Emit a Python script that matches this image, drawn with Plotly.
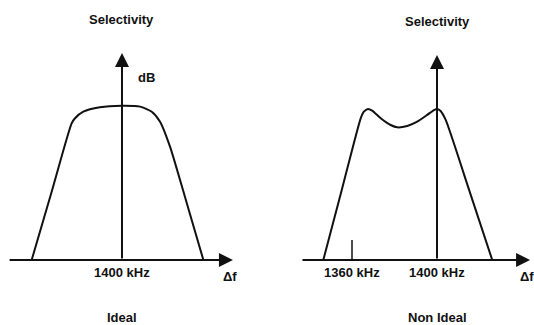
import plotly.graph_objects as go

# ---- data (frequency in kHz, level in relative dB units) ----
ideal_freq = [1357.5, 1366.9, 1376.3, 1377.9, 1381.8, 1389.6, 1400.0, 1408.5, 1414.0, 1417.9, 1422.6, 1430.5, 1438.3]
ideal_level = [0.0, 4.46, 8.93, 9.26, 9.69, 9.98, 10.08, 10.02, 9.69, 9.04, 7.41, 3.71, 0.0]

nonideal_freq = [1346.5, 1355.3, 1364.1, 1365.6, 1367.5, 1369.5, 1373.5, 1378.2, 1381.3, 1386.0,
                 1390.7, 1395.4, 1398.6, 1400.1, 1401.7, 1404.1, 1415.1, 1426.0]
nonideal_level = [0.0, 4.64, 9.26, 9.69, 9.87, 9.76, 9.26, 8.82, 8.67, 8.76,
                  9.04, 9.48, 9.80, 9.87, 9.74, 9.15, 4.58, 0.0]

center_freq = 1400
marker_freq = 1360
ideal_tick_labels = ["1400 kHz"]
nonideal_tick_labels = ["1360 kHz", "1400 kHz"]
titles = ["Selectivity", "Selectivity"]
captions = ["Ideal", "Non Ideal"]

# axis extents (data units)
left_xrange = [1342.59, 1468.24]
right_xrange = [1320.0, 1445.65]
yrange = [-4.25, 16.99]

FONT = dict(family="Liberation Sans, Arial, sans-serif", size=13, color="#111")
LINE = "#111"

fig = go.Figure()
fig.add_trace(go.Scatter(x=ideal_freq, y=ideal_level, mode="lines",
                         line=dict(color=LINE, width=2, shape="spline", smoothing=0.6),
                         xaxis="x", yaxis="y", hoverinfo="skip"))
fig.add_trace(go.Scatter(x=nonideal_freq, y=nonideal_level, mode="lines",
                         line=dict(color=LINE, width=2, shape="spline", smoothing=0.6),
                         xaxis="x2", yaxis="y2", hoverinfo="skip"))
# 1360 kHz marker tick
fig.add_trace(go.Scatter(x=[marker_freq, marker_freq], y=[0, 1.31], mode="lines",
                         line=dict(color=LINE, width=1.5), xaxis="x2", yaxis="y2", hoverinfo="skip"))

ann = []
def arrow(xref, yref, x0, y0, x1, y1):
    ann.append(dict(x=x1, y=y1, ax=x0, ay=y0, xref=xref, yref=yref, axref=xref, ayref=yref,
                    text="", showarrow=True, arrowhead=2, arrowsize=1.4, arrowwidth=2,
                    arrowcolor=LINE, standoff=0))

def label(xref, yref, x, y, t, bold=True):
    ann.append(dict(x=x, y=y, xref=xref, yref=yref, text=f"<b>{t}</b>" if bold else t,
                    showarrow=False, font=FONT, xanchor="center", yanchor="middle"))

# left panel axes
arrow("x", "y", 1346.4, 0, 1452.2, 0)
arrow("x", "y", center_freq, 0, center_freq, 13.53)
# right panel axes
arrow("x2", "y2", 1336.0, 0, 1443.8, 0)
arrow("x2", "y2", center_freq, 0, center_freq, 13.4)

label("x", "y", center_freq, 15.69, titles[0])
label("x", "y", 1411.3, 11.9, "dB")
label("x", "y", center_freq, -0.85, ideal_tick_labels[0])
label("x", "y", 1450.8, -1.05, "Δf")
label("x", "y", center_freq, -3.73, captions[0])

label("x2", "y2", center_freq, 15.56, titles[1])
label("x2", "y2", marker_freq, -0.85, nonideal_tick_labels[0])
label("x2", "y2", center_freq, -0.85, nonideal_tick_labels[1])
label("x2", "y2", 1442.4, -1.05, "Δf")
label("x2", "y2", center_freq, -3.73, captions[1])

hidden = dict(visible=False, showgrid=False, zeroline=False, fixedrange=True)
fig.update_layout(
    width=534, height=325,
    margin=dict(l=0, r=0, t=0, b=0),
    paper_bgcolor="white", plot_bgcolor="white",
    showlegend=False,
    xaxis=dict(domain=[0, 0.5], range=left_xrange, anchor="y", **hidden),
    yaxis=dict(domain=[0, 1], range=yrange, anchor="x", **hidden),
    xaxis2=dict(domain=[0.5, 1], range=right_xrange, anchor="y2", **hidden),
    yaxis2=dict(domain=[0, 1], range=yrange, anchor="x2", **hidden),
    annotations=ann,
)
fig.write_html("out.html", config={"displayModeBar": False},
               post_script="document.body.style.margin='0';document.body.style.overflow='hidden';")
